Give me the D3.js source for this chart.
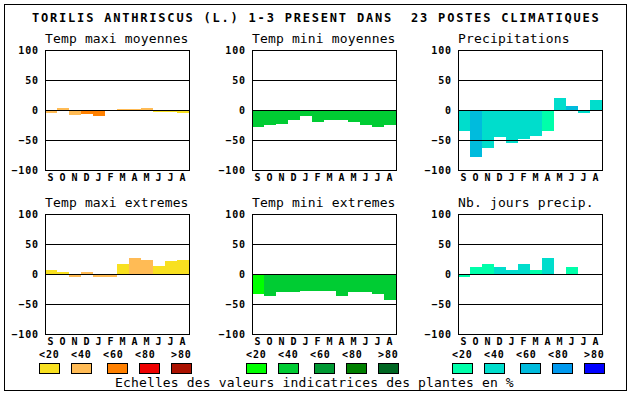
<!DOCTYPE html>
<html>
<head>
<meta charset="utf-8">
<script src="https://cdn.jsdelivr.net/npm/d3@7"></script>
<style>
body { margin: 0; background: #fff; }
text { font-family: "DejaVu Sans Mono", "Liberation Mono", monospace; white-space: pre; }
</style>
</head>
<body>
<script>
// months (Sept -> Aug) and axis ticks
var months = ['S', 'O', 'N', 'D', 'J', 'F', 'M', 'A', 'M', 'J', 'J', 'A'];
var yTicks = [-100, -50, 0, 50, 100];
var scaleLabels = ['<20', '<40', '<60', '<80', '>80'];

// colour scales of the indicator values
var tempColors = ['#f8e020', '#ffbb55', '#ff8000', '#ee0000', '#aa1100'];
var greenColors = ['#00ff00', '#00cc33', '#009933', '#008000', '#006622'];
var blueColors = ['#00ffaa', '#00ddcc', '#00bbdd', '#0099ee', '#0000ff'];

// series values, and colour class of every bar
var maxiMoy = [-4, 3, -6, -5, -8, 0, 1, 1, 3, -2, -2, -4];
var maxiMoyCls = [1, 1, 1, 2, 2, 1, 1, 1, 1, 0, 0, 0];
var miniMoy = [-26, -24, -21, -15, -8, -18, -15, -15, -18, -24, -26, -24];
var miniMoyCls = [1, 1, 1, 1, 1, 1, 1, 1, 1, 1, 1, 1];
var precip = [-34, -76, -61, -44, -53, -46, -41, -34, 20, 7, -3, 17];
var precipCls = [1, 2, 1, 1, 1, 1, 1, 0, 1, 2, 1, 1];
var maxiExt = [7, 4, -4, 4, -4, -4, 17, 26, 24, 14, 22, 24];
var maxiExtCls = [0, 0, 1, 1, 1, 1, 0, 1, 1, 0, 0, 0];
var miniExt = [-31, -35, -28, -28, -26, -26, -26, -35, -28, -28, -31, -41];
var miniExtCls = [0, 1, 1, 1, 1, 1, 1, 1, 1, 1, 1, 1];
var joursPrecip = [-3, 11, 16, 11, 7, 16, 7, 27, 0, 11, 0, 0];
var joursPrecipCls = [0, 0, 0, 1, 1, 1, 0, 1, 0, 0, 0, 0];

var panels = [
	{ title: 'Temp maxi moyennes', values: maxiMoy, cls: maxiMoyCls, colors: tempColors },
	{ title: 'Temp mini moyennes', values: miniMoy, cls: miniMoyCls, colors: greenColors },
	{ title: 'Precipitations', values: precip, cls: precipCls, colors: blueColors },
	{ title: 'Temp maxi extremes', values: maxiExt, cls: maxiExtCls, colors: tempColors },
	{ title: 'Temp mini extremes', values: miniExt, cls: miniExtCls, colors: greenColors },
	{ title: 'Nb. jours precip.', values: joursPrecip, cls: joursPrecipCls, colors: blueColors }
];

var W = 630, H = 394;
var colX = [45, 252, 458],
	rowY = [50, 214],
	plotW = 144,
	plotH = 120;

var svg = d3.select('body').append('svg')
	.attr('width', W)
	.attr('height', H);

// outer frame
svg.append('rect')
	.attr('x', 4.5).attr('y', 4.5)
	.attr('width', 622).attr('height', 386)
	.attr('fill', 'none').attr('stroke', '#000');

svg.append('text')
	.attr('x', 32).attr('y', 22)
	.attr('font-size', 12).attr('font-weight', 'bold')
	.attr('letter-spacing', 1.8)
	.text('TORILIS ANTHRISCUS (L.) 1-3 PRESENT DANS  23 POSTES CLIMATIQUES');

var y = d3.scaleLinear().domain([-100, 100]).range([plotH, 0]);
var x = d3.scaleBand().domain(d3.range(12)).range([0, plotW]).paddingInner(0).paddingOuter(0);
var y0 = Math.round(y(0));

function styleTicks(sel) {
	sel.selectAll('text')
		.attr('font-family', '"DejaVu Sans Mono", monospace')
		.attr('font-size', 10).attr('font-weight', 'bold')
		.attr('letter-spacing', 0.9).attr('fill', '#000');
}

panels.forEach(function (p, i) {
	var g = svg.append('g')
		.attr('transform', 'translate(' + colX[i % 3] + ',' + rowY[Math.floor(i / 3)] + ')');

	g.append('text')
		.attr('x', 0).attr('y', -7)
		.attr('font-size', 13)
		.attr('letter-spacing', 0.15)
		.text(p.title);

	// bars (pixel-snapped, they run through the zero line)
	g.selectAll('.bar').data(p.values).enter().append('rect')
		.attr('class', 'bar')
		.attr('x', function (d, j) { return x(j); })
		.attr('width', x.bandwidth())
		.attr('y', function (d) { return Math.min(Math.round(y(d)), y0); })
		.attr('height', function (d) {
			return d === 0 ? 0 : Math.abs(Math.round(y(d)) - y0) + 1;
		})
		.attr('fill', function (d, j) { return p.colors[p.cls[j]]; })
		.attr('shape-rendering', 'crispEdges');

	// grid lines
	g.selectAll('.grid').data([50, 0, -50]).enter().append('line')
		.attr('x1', 0).attr('x2', plotW)
		.attr('y1', function (d) { return Math.round(y(d)) + 0.5; })
		.attr('y2', function (d) { return Math.round(y(d)) + 0.5; })
		.attr('stroke', '#000');

	g.append('rect')
		.attr('x', 0.5).attr('y', 0.5)
		.attr('width', plotW).attr('height', plotH)
		.attr('fill', 'none').attr('stroke', '#000');

	var yAxis = g.append('g')
		.call(d3.axisLeft(y).tickValues(yTicks).tickSize(0).tickPadding(6).tickFormat(d3.format('d')));
	yAxis.select('.domain').remove();
	styleTicks(yAxis);

	var xAxis = g.append('g')
		.attr('transform', 'translate(0,' + plotH + ')')
		.call(d3.axisBottom(x).tickSize(0).tickPadding(3).tickFormat(function (j) { return months[j]; }));
	xAxis.select('.domain').remove();
	styleTicks(xAxis);
	xAxis.selectAll('text').attr('y', 10.5).attr('dy', null);
});

// legends under the second row
var labelOff = [0, 32, 64, 96, 132],
	boxOff = [0, 32, 68, 100, 132];
[tempColors, greenColors, blueColors].forEach(function (cols, k) {
	var g = svg.append('g').attr('transform', 'translate(' + (colX[k] - 6) + ',0)');
	g.selectAll('.lab').data(scaleLabels).enter().append('text')
		.attr('x', function (d, j) { return labelOff[j]; })
		.attr('y', 358)
		.attr('font-size', 10).attr('font-weight', 'bold')
		.attr('letter-spacing', 0.9)
		.text(function (d) { return d; });
	g.selectAll('.box').data(cols).enter().append('rect')
		.attr('x', function (d, j) { return boxOff[j] + 0.5; })
		.attr('y', 363.5)
		.attr('width', 20).attr('height', 10)
		.attr('fill', function (d) { return d; })
		.attr('stroke', '#000');
});

svg.append('text')
	.attr('x', 115).attr('y', 387)
	.attr('font-size', 13).attr('letter-spacing', 0.15)
	.text('Echelles des valeurs indicatrices des plantes en %');
</script>
</body>
</html>
